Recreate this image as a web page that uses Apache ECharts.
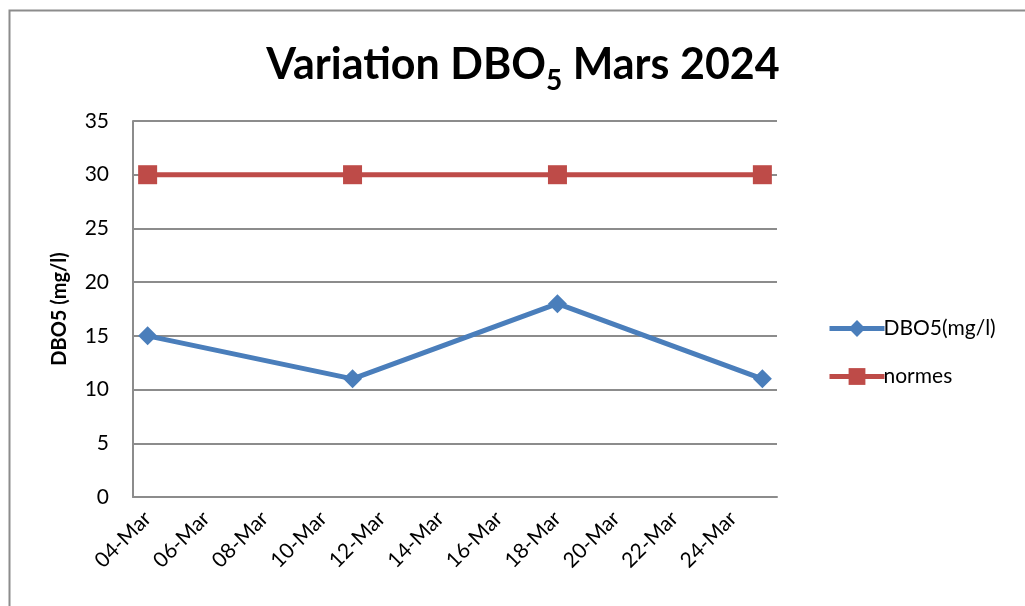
<!DOCTYPE html>
<html>
<head>
<meta charset="utf-8">
<script src="https://cdn.jsdelivr.net/npm/echarts@6/dist/echarts.min.js"></script>
<style>
  html, body { margin: 0; padding: 0; background: #fff; }
  #chart { width: 1025px; height: 606px; }
</style>
</head>
<body>
<div id="chart"></div>
<script>
const dates = ["04-Mar","05-Mar","06-Mar","07-Mar","08-Mar","09-Mar","10-Mar","11-Mar","12-Mar","13-Mar","14-Mar",
               "15-Mar","16-Mar","17-Mar","18-Mar","19-Mar","20-Mar","21-Mar","22-Mar","23-Mar","24-Mar","25-Mar"];
const sampleDates = ["04-Mar","11-Mar","18-Mar","25-Mar"];
const dbo5Values = [15, 11, 18, 11];
const normesValues = [30, 30, 30, 30];

function toSeries(vals) {
  return dates.map(d => {
    const i = sampleDates.indexOf(d);
    return i >= 0 ? vals[i] : null;
  });
}

const FONT = 'Lato, "Open Sans", sans-serif';
const chart = echarts.init(document.getElementById('chart'));
chart.setOption({
  animation: false,
  textStyle: { fontFamily: FONT },
  graphic: [{
    type: 'rect', left: 7, top: 8, silent: true,
    shape: { x: 0, y: 0, width: 1100, height: 700 },
    style: { fill: 'none', stroke: '#8c8c8c', lineWidth: 2 }
  }],
  title: {
    text: 'Variation DBO{sub|5} Mars 2024',
    left: 518, top: 30, textAlign: 'center',
    textStyle: {
      fontFamily: FONT, fontWeight: 'bold', fontSize: 43, color: '#000',
      rich: { sub: { fontFamily: FONT, fontWeight: 'bold', fontSize: 28, color: '#000', verticalAlign: 'bottom', padding: [32, 0, 0, 0] } }
    }
  },
  legend: {
    orient: 'vertical', left: 822, top: 313,
    itemWidth: 55, itemHeight: 21, itemGap: 27,
    lineStyle: { width: 5 },
    textStyle: { fontFamily: FONT, fontSize: 21, color: '#000', padding: [0, 0, 0, -6] },
    data: ['DBO5(mg/l)', 'normes']
  },
  grid: { left: 133, right: 248, top: 121, bottom: 109, containLabel: false },
  xAxis: {
    type: 'category', data: dates, boundaryGap: true,
    axisLine: { lineStyle: { color: '#8c8c8c', width: 2 } },
    axisTick: { show: false },
    axisLabel: { interval: 1, rotate: 45, fontSize: 21, color: '#000', margin: 18, fontFamily: FONT },
    splitLine: { show: false }
  },
  yAxis: {
    type: 'value', min: 0, max: 35, interval: 5,
    name: 'DBO5 (mg/l)', nameLocation: 'middle', nameRotate: 90, nameGap: 63,
    nameTextStyle: { fontFamily: FONT, fontWeight: 'bold', fontSize: 20, color: '#000' },
    axisLine: { show: true, lineStyle: { color: '#8c8c8c', width: 2 } },
    axisTick: { show: false },
    axisLabel: { fontSize: 21, color: '#000', margin: 24, fontFamily: FONT },
    splitLine: { lineStyle: { color: '#8c8c8c', width: 2 } }
  },
  series: [
    {
      name: 'DBO5(mg/l)', type: 'line', data: toSeries(dbo5Values), connectNulls: true,
      symbol: 'diamond', symbolSize: 19, showAllSymbol: true,
      lineStyle: { color: '#4a7ebb', width: 5 },
      itemStyle: { color: '#4a7ebb' }
    },
    {
      name: 'normes', type: 'line', data: toSeries(normesValues), connectNulls: true,
      symbol: 'rect', symbolSize: 19, showAllSymbol: true,
      lineStyle: { color: '#be4b48', width: 5 },
      itemStyle: { color: '#be4b48' }
    }
  ]
});
</script>
</body>
</html>
